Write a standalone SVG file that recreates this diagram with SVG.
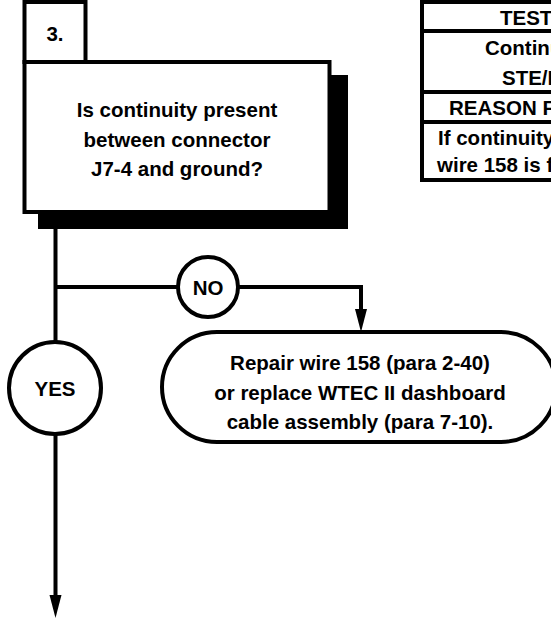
<svg xmlns="http://www.w3.org/2000/svg" width="551" height="621" viewBox="0 0 551 621">
<style>
.t{font-family:"Liberation Sans",Arial,sans-serif;font-weight:bold;font-size:20.5px;fill:#000}
.c{text-anchor:middle}
.box{fill:#fff;stroke:#000;stroke-width:4}
.ln{fill:none;stroke:#000;stroke-width:4}
</style>
<defs>
<marker id="ah" markerUnits="userSpaceOnUse" markerWidth="24" markerHeight="14" viewBox="0 -7 24 14" refX="0" refY="0" orient="auto">
<path d="M0,-6 L23,0 L0,6 Z" fill="#000"/>
</marker>
</defs>
<rect width="551" height="621" fill="#fff"/>
<g id="table">
<rect x="422" y="2" width="140" height="178" class="box"/>
<line x1="422" y1="31" x2="551" y2="31" class="ln"/>
<line x1="422" y1="92" x2="551" y2="92" class="ln"/>
<line x1="422" y1="122" x2="551" y2="122" class="ln"/>
<text class="t" x="500" y="25">TEST</text>
<text class="t" x="485" y="55">Continu</text>
<text class="t" x="502" y="85">STE/I</text>
<text class="t" x="449" y="115">REASON F</text>
<text class="t" x="438" y="145">If continuity</text>
<text class="t" x="437" y="172">wire 158 is f</text>
</g>
<g id="step3">
<rect x="38" y="75" width="310" height="154" fill="#000"/>
<rect x="24.5" y="62" width="305" height="150" class="box"/>
<rect x="24.5" y="2" width="61" height="60" class="box"/>
<text class="t c" x="55" y="41">3.</text>
<text class="t c" x="177" y="117">Is continuity present</text>
<text class="t c" x="177" y="146.5">between connector</text>
<text class="t c" x="177" y="176">J7-4 and ground?</text>
</g>
<g id="connectors">
<line x1="55.5" y1="229" x2="55.5" y2="595" class="ln" marker-end="url(#ah)"/>
<polyline points="55.5,287 361,287 361,309" class="ln" marker-end="url(#ah)"/>
</g>
<g id="no">
<circle cx="208" cy="287" r="30" class="box"/>
<text class="t c" x="208" y="294.5">NO</text>
</g>
<g id="yes">
<circle cx="55" cy="388" r="46" class="box"/>
<text class="t c" x="55" y="396">YES</text>
</g>
<g id="repair">
<rect x="162" y="332" width="394" height="110" rx="55" ry="55" class="box"/>
<text class="t c" x="360" y="370">Repair wire 158 (para 2-40)</text>
<text class="t c" x="360" y="400">or replace WTEC II dashboard</text>
<text class="t c" x="360" y="429">cable assembly (para 7-10).</text>
</g>
</svg>
